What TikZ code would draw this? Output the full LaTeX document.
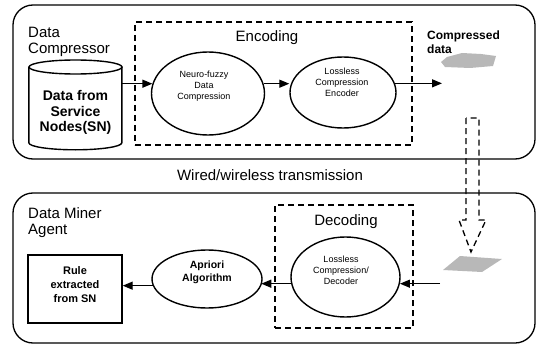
\documentclass[tikz,border=0pt]{standalone}
\usepackage{fontspec}
\setmainfont{Liberation Sans}
\usetikzlibrary{shapes.geometric,arrows.meta}
\begin{document}
\begin{tikzpicture}[x=1pt,y=-1pt,
 container/.style={draw,line width=1.3pt,rounded corners=20pt,inner sep=0pt},
 dashbox/.style={draw,line width=1.3pt,dash pattern=on 6pt off 4pt,inner sep=0pt},
 proc/.style={ellipse,draw,line width=1.4pt,inner sep=0pt},
 conn/.style={line width=1.3pt,-{Triangle[length=10pt,width=8pt]}},
 biglabel/.style={font=\fontsize{15}{16}\selectfont,inner sep=0pt,align=left},
 small/.style={font=\fontsize{9}{11}\selectfont,align=center,inner sep=0pt},
 boldtxt/.style={font=\bfseries\fontsize{11}{14}\selectfont,align=center,inner sep=0pt},
 blob/.style={fill=black!28,draw=none}
]
\useasboundingbox (0,0) rectangle (538,345);

% containers
\node[container, minimum width=522pt, minimum height=154pt] (topbox) at (274,82) {};
\node[container, minimum width=522pt, minimum height=150pt] (botbox) at (274,268) {};

% top labels
\node[biglabel, anchor=base west] (dc) at (28,53) {Data\\Compressor};
\node[dashbox, minimum width=277pt, minimum height=123pt] (enc) at (273.5,83.5) {};
\node[biglabel, anchor=base] (enclbl) at (267,42) {Encoding};

% cylinder
\node[minimum width=93pt, minimum height=90pt, inner sep=0pt] (cyl) at (75.5,105) {};
\draw[line width=1.4pt] (cyl.north west) ++(0,7) -- ++(0,76)
  arc[start angle=180, end angle=0, x radius=46.5, y radius=7] -- ++(0,-76);
\draw[line width=1.4pt] (75.5,67) ellipse [x radius=46.5, y radius=7];
\node[font=\bfseries\fontsize{14}{15.5}\selectfont, align=center, inner sep=0pt] (cyltxt) at (75.5,112.5) {Data from\\Service\\Nodes(SN)};

% ellipses top
\node[proc, minimum width=113pt, minimum height=83pt] (e1) at (208,93.5) {};
\node[small] (e1t) at (204,86) {Neuro-fuzzy\\Data\\Compression};
\node[proc, minimum width=106pt, minimum height=71pt] (e2) at (343,92.5) {};
\node[small] (e2t) at (342,82.5) {Lossless\\Compression\\Encoder};

% compressed data
\node[font=\bfseries\fontsize{12}{14}\selectfont, inner sep=0pt, align=left, anchor=base west] (cdt) at (427,54) {Compressed\\data};
\fill[blob] (447,57) -- (462,53) -- (481,54) -- (496,56) -- (493,66) -- (470,68) -- (445,67) -- (441,62) -- cycle;
\coordinate (cd) at (442,83);

\draw[conn] (cyl.east |- e1.170) -- (e1.170);
\draw[conn] (e1.10) -- (e1.10 -| e2.west);
\draw[conn] (e2.10) -- (e2.10 -| cd);

% transmission
\node[font=\fontsize{15}{16}\selectfont, inner sep=0pt, anchor=base] (wired) at (270,180) {Wired/wireless transmission};

% big dashed arrow
\draw[line width=1.3pt, dash pattern=on 6pt off 4pt] (466,118) -- (466,220) -- (459,220) -- (471,252) -- (486,220) -- (479,220) -- (479,118) -- cycle;

% bottom
\node[biglabel, anchor=base west] (dma) at (28,234) {Data Miner\\Agent};
\node[dashbox, minimum width=138pt, minimum height=123pt] (dec) at (344,266.5) {};
\node[biglabel, anchor=base] (declbl) at (346,225) {Decoding};

\fill[blob] (460,256) -- (502,259) -- (482,272) -- (443,270) -- cycle;
\coordinate (bin) at (440,283);

\node[proc, minimum width=109pt, minimum height=80pt] (e3) at (345.5,277) {};
\node[small] (e3t) at (341,270) {Lossless\\Compression/\\Decoder};
\node[proc, minimum width=110pt, minimum height=58pt] (e4) at (207,279) {};
\node[font=\bfseries\fontsize{10.5}{13}\selectfont, align=center, inner sep=0pt] (e4t) at (207,272) {Apriori\\Algorithm};
\node[draw, line width=1.4pt, minimum width=94pt, minimum height=68pt, inner sep=0pt] (rule) at (75,289) {};
\node[boldtxt] (rulet) at (75,285) {Rule\\extracted\\from SN};

\draw[conn] (bin |- e3.353) -- (e3.353);
\draw[conn] (e3.187) -- (e3.187 -| e4.353);
\draw[conn] (e4.187) -- (e4.187 -| rule.east);
\end{tikzpicture}
\end{document}
